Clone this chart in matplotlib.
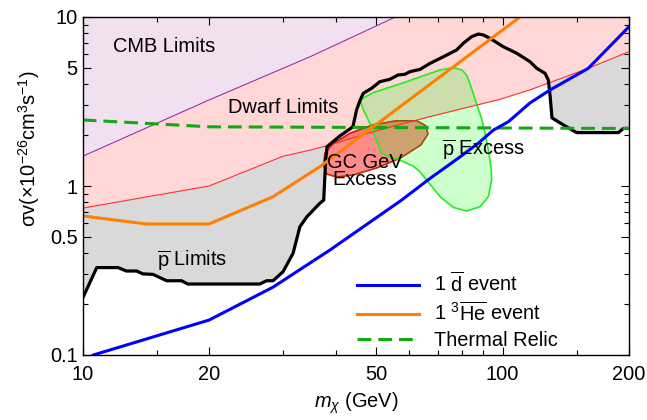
import matplotlib
matplotlib.use("Agg")
import matplotlib.pyplot as plt

plt.rcParams['font.family'] = ['Liberation Sans', 'DejaVu Sans']
plt.rcParams['mathtext.fontset'] = 'custom'
plt.rcParams['mathtext.rm'] = 'Liberation Sans'
plt.rcParams['mathtext.it'] = 'Liberation Sans:italic'
plt.rcParams['mathtext.bf'] = 'Liberation Sans:bold'

# antiproton limits (black curve, grey region above it)
pbar_m = [10, 10.8, 12.15, 12.7, 13.45, 13.9, 14.7, 15.85, 17.2, 17.8,
          26.4, 27.4, 28.4, 30.0, 31.7, 32.9, 34.2, 36.7, 37.5, 37.9,
          38.2, 41.0, 44.0, 44.9, 45.8, 46.6, 48.8, 51.0, 53.9, 56.4,
          58.5, 60.2, 63.6, 67.2, 72.3, 77.7, 80.6, 84.4, 87.5, 90.0,
          93.3, 100.4, 108.1, 116.2, 120.6, 126.2, 128.5, 129.7, 131.1, 139.5,
          150.1, 188.7, 193.9, 200]
pbar_v = [0.217, 0.329, 0.329, 0.314, 0.314, 0.302, 0.30, 0.275, 0.275, 0.263,
          0.263, 0.275, 0.275, 0.311, 0.40, 0.574, 0.658, 0.79, 0.826, 1.43,
          1.71, 1.98, 2.24, 2.82, 3.23, 3.54, 3.79, 4.14, 4.28, 4.54,
          4.58, 4.75, 4.90, 5.32, 5.82, 6.38, 6.99, 7.65, 7.93, 7.83,
          7.48, 6.67, 6.10, 5.44, 4.97, 4.64, 4.24, 3.46, 2.53, 2.30,
          2.07, 2.07, 2.19, 2.19]

dwarf_m = [10, 20, 30, 34.8, 38.8, 50, 67, 98.6, 116, 137, 160, 200]
dwarf_v = [0.74, 1.0, 1.5, 1.63, 1.75, 2.12, 2.57, 3.26, 3.7, 4.31, 4.97, 6.24]

cmb_m = [10, 20, 34.8, 57]
cmb_v = [1.5, 3.23, 5.82, 10.3]

thermal_m = [10, 14.5, 20, 200]
thermal_v = [2.46, 2.34, 2.24, 2.19]

dbar_m = [10.6, 20, 28.4, 38.8, 57.5, 67.2, 78.4, 87.5, 95.0, 103.2, 116.2, 129.7, 160, 200]
dbar_v = [0.1, 0.161, 0.252, 0.418, 0.826, 1.11, 1.46, 1.79, 2.14, 2.40, 3.10, 3.70, 4.97, 8.76]

he_m = [10, 14.2, 20, 28.4, 36.7, 110]
he_v = [0.665, 0.596, 0.596, 0.864, 1.30, 10]

gc_m = [37.45, 37.76, 39.47, 43.3, 49.1, 55.7, 62.5, 65.7, 66.4, 63.9, 57.0, 50.2, 44.0, 40.3, 37.96]
gc_v = [1.33, 1.57, 1.78, 2.05, 2.30, 2.43, 2.43, 2.27, 2.03, 1.75, 1.46, 1.28, 1.16, 1.13, 1.18]

pex_m = [45.75, 49.2, 57.0, 71.0, 76.2, 80.1, 82.3, 84.6, 86.9, 89.3, 90.8, 92.5, 93.9, 94.2,
         92.5, 88.4, 82.1, 76.3, 71.0, 66.5, 63.6, 61.3, 57.0, 51.5, 49.7, 48.3, 46.6]
pex_v = [3.23, 3.57, 4.02, 4.86, 5.01, 4.86, 4.48, 3.70, 3.02, 2.46, 2.06, 1.63, 1.28, 1.09,
         0.864, 0.755, 0.711, 0.747, 0.864, 1.056, 1.21, 1.31, 1.42, 1.56, 1.96, 2.35, 2.82]

fs = 14.4

fig = plt.figure(figsize=(6.47, 4.20), dpi=100)
ax = fig.add_axes([82.7 / 647, 65 / 420, 546.3 / 647, 338 / 420])
ax.set_xscale('log')
ax.set_yscale('log')

ax.fill_between(pbar_m, pbar_v, 20, color='#D9D9D9', lw=0)
ax.fill_between(dwarf_m, dwarf_v, 20, color='#FFD7D7', lw=0)
ax.fill_between(cmb_m, cmb_v, 20, color='#F0E0F0', lw=0)
ax.plot(dwarf_m, dwarf_v, color='#FF3030', lw=0.8)
ax.plot(cmb_m, cmb_v, color='#9933AA', lw=0.8)
ax.plot(pbar_m, pbar_v, color='black', lw=2.3, solid_joinstyle='round')

ax.plot(thermal_m, thermal_v, color='#11AA11', lw=2.2, dashes=(4.5, 2.3), label='Thermal Relic')

ax.fill(gc_m, gc_v, facecolor=(1, 0, 0, 0.45), edgecolor='#CC2200', lw=1.2)
ax.fill(pex_m, pex_v, facecolor=(0, 1, 0, 0.2), edgecolor='#22EE22', lw=1.2)

ax.plot(dbar_m, dbar_v, color='#0000FF', lw=2.2, label=r'1 $\overline{\mathrm{d}}$ event')
ax.plot(he_m, he_v, color='#FF8000', lw=2.2, label=r'1 $^{3}\overline{\mathrm{He}}$ event')

ax.text(11.8, 6.65, 'CMB Limits', fontsize=fs, va='center')
ax.text(22.2, 2.93, 'Dwarf Limits', fontsize=fs, va='center')
ax.text(15.0, 0.36, r'$\overline{\mathrm{p}}$ Limits', fontsize=fs, va='center')
ax.text(46.9, 1.227, 'GC GeV\nExcess', fontsize=fs, va='center', ha='center', linespacing=0.85)
ax.text(71.6, 1.63, r'$\overline{\mathrm{p}}$ Excess', fontsize=fs, va='center')

ax.set_xlim(10, 200)
ax.set_ylim(0.1, 10)
ax.set_xticks([10, 20, 50, 100, 200])
ax.set_xticklabels(['10', '20', '50', '100', '200'])
ax.set_xticks([15, 30, 40, 60, 70, 80, 90, 150], minor=True)
ax.set_xticklabels([], minor=True)
ax.set_yticks([0.1, 0.5, 1, 5, 10])
ax.set_yticklabels(['0.1', '0.5', '1', '5', '10'])
ax.set_yticks([0.2, 0.3, 0.4, 0.6, 0.7, 0.8, 0.9, 2, 3, 4, 6, 7, 8, 9], minor=True)
ax.set_yticklabels([], minor=True)
ax.tick_params(which='both', direction='in', top=True, right=True, labelsize=fs, width=0.8)
ax.tick_params(which='major', length=6)
ax.tick_params(which='minor', length=3.5)
ax.tick_params(axis='x', which='major', pad=7)
for s in ax.spines.values():
    s.set_linewidth(1.0)

ax.set_xlabel(r'$m_\chi$ (GeV)', fontsize=fs, labelpad=5)
ax.set_ylabel(r'σv(×10$^{-26}$cm$^{3}$s$^{-1}$)', fontsize=fs)
ax.yaxis.set_label_coords(-0.075, 0.61)

h, l = ax.get_legend_handles_labels()
order = [1, 2, 0]
ax.legend([h[i] for i in order], [l[i] for i in order], loc='lower left',
          bbox_to_anchor=(0.477, -0.027), frameon=False, fontsize=fs,
          handlelength=3.1, handletextpad=0.75, labelspacing=0.3, borderpad=0.2)

fig.savefig('out.png', dpi=100)
